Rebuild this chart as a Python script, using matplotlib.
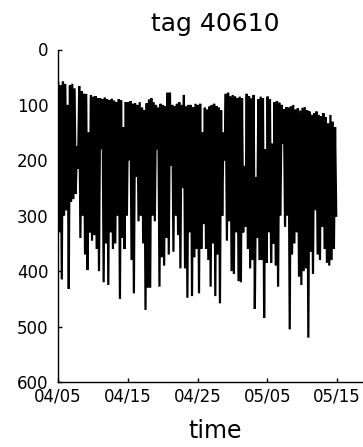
import matplotlib
matplotlib.use("Agg")
import matplotlib.pyplot as plt
import matplotlib.dates as mdates
import numpy as np
import pandas as pd

# Shallowest depth between dives (m), three per day starting 04/05
shallow = [
    60, 65, 58,   62, 100, 65,   62, 70, 175,   66, 75, 80,    80, 150, 82,
    85, 84, 88,   88, 90, 87,    90, 92, 89,    92, 95, 90,    92, 140, 95,
    95, 93, 98,   97, 100, 95,   105, 110, 97,  90, 88, 95,    100, 105, 98,
    100, 102, 78, 78, 100, 103,  98, 95, 100,   82, 103, 100,  100, 104, 98,
    100, 98, 150, 105, 108, 103, 100, 98, 102,  105, 110, 150, 80, 78, 85,
    82, 85, 88,   85, 88, 210,   80, 84, 88,    82, 230, 90,   85, 88, 180,
    85, 90, 170,  95, 93, 96,    100, 108, 104, 105, 103, 100, 108, 106, 110,
    105, 104, 110, 112, 118, 115, 112, 118, 120, 115, 122, 133, 118, 130, 140,
]

# Deepest depth of each dive (m), three per day starting 04/05
deep = [
    330, 415, 300, 290, 432, 275, 270, 260, 215, 340, 300, 370, 398, 330, 345,
    335, 360, 400, 180, 420, 350, 425, 330, 360, 350, 300, 450, 340, 360, 300,
    200, 380, 440, 230, 310, 300, 350, 470, 430, 430, 300, 310, 180, 428, 375,
    390, 340, 370, 210, 365, 300, 335, 395, 250, 395, 448, 330, 445, 375, 360,
    440, 360, 315, 360, 380, 428, 350, 445, 370, 458, 300, 200, 345, 310, 400,
    405, 330, 418, 420, 330, 320, 360, 395, 380, 468, 340, 380, 380, 484, 385,
    330, 385, 350, 390, 428, 300, 170, 320, 300, 505, 370, 350, 330, 410, 425,
    400, 395, 520, 365, 405, 290, 370, 380, 320, 360, 385, 390, 380, 360, 300,
]

depth_ticks = [0, 100, 200, 300, 400, 500, 600]
date_ticks = ["2005-04-05", "2005-04-15", "2005-04-25", "2005-05-05", "2005-05-15"]
date_labels = ["04/05", "04/15", "04/25", "05/05", "05/15"]

# Alternate shallow / deep readings into one depth trace, sampled every 4 hours
depth = np.empty(len(shallow) + len(deep))
depth[0::2] = shallow
depth[1::2] = deep
times = pd.date_range("2005-04-05 01:00", periods=len(depth), freq="4h")

W, H = 363, 447
fig = plt.figure(figsize=(W / 100, H / 100), dpi=100)
ax = fig.add_axes([58 / W, 65 / H, 314 / W, 332.5 / H])

ax.plot(times, depth, color="black", linewidth=1.6, solid_joinstyle="miter")

ax.set_ylim(600, 0)
ax.set_xlim(pd.Timestamp("2005-04-05"), pd.Timestamp("2005-05-20"))
ax.set_yticks(depth_ticks)
ax.set_yticklabels([str(v) for v in depth_ticks])
ax.set_xticks([mdates.date2num(pd.Timestamp(d)) for d in date_ticks])
ax.set_xticklabels(date_labels)

ax.spines["top"].set_visible(False)
ax.spines["right"].set_visible(False)
for s in ("left", "bottom"):
    ax.spines[s].set_linewidth(1.0)
ax.tick_params(direction="in", length=3, width=1.0, labelsize=12)
ax.tick_params(axis="y", pad=7)
ax.tick_params(axis="x", pad=4)

ax.set_title("tag 40610", fontsize=18, pad=13)
ax.set_xlabel("time", fontsize=17, labelpad=10)

fig.savefig("out.png", dpi=100)
